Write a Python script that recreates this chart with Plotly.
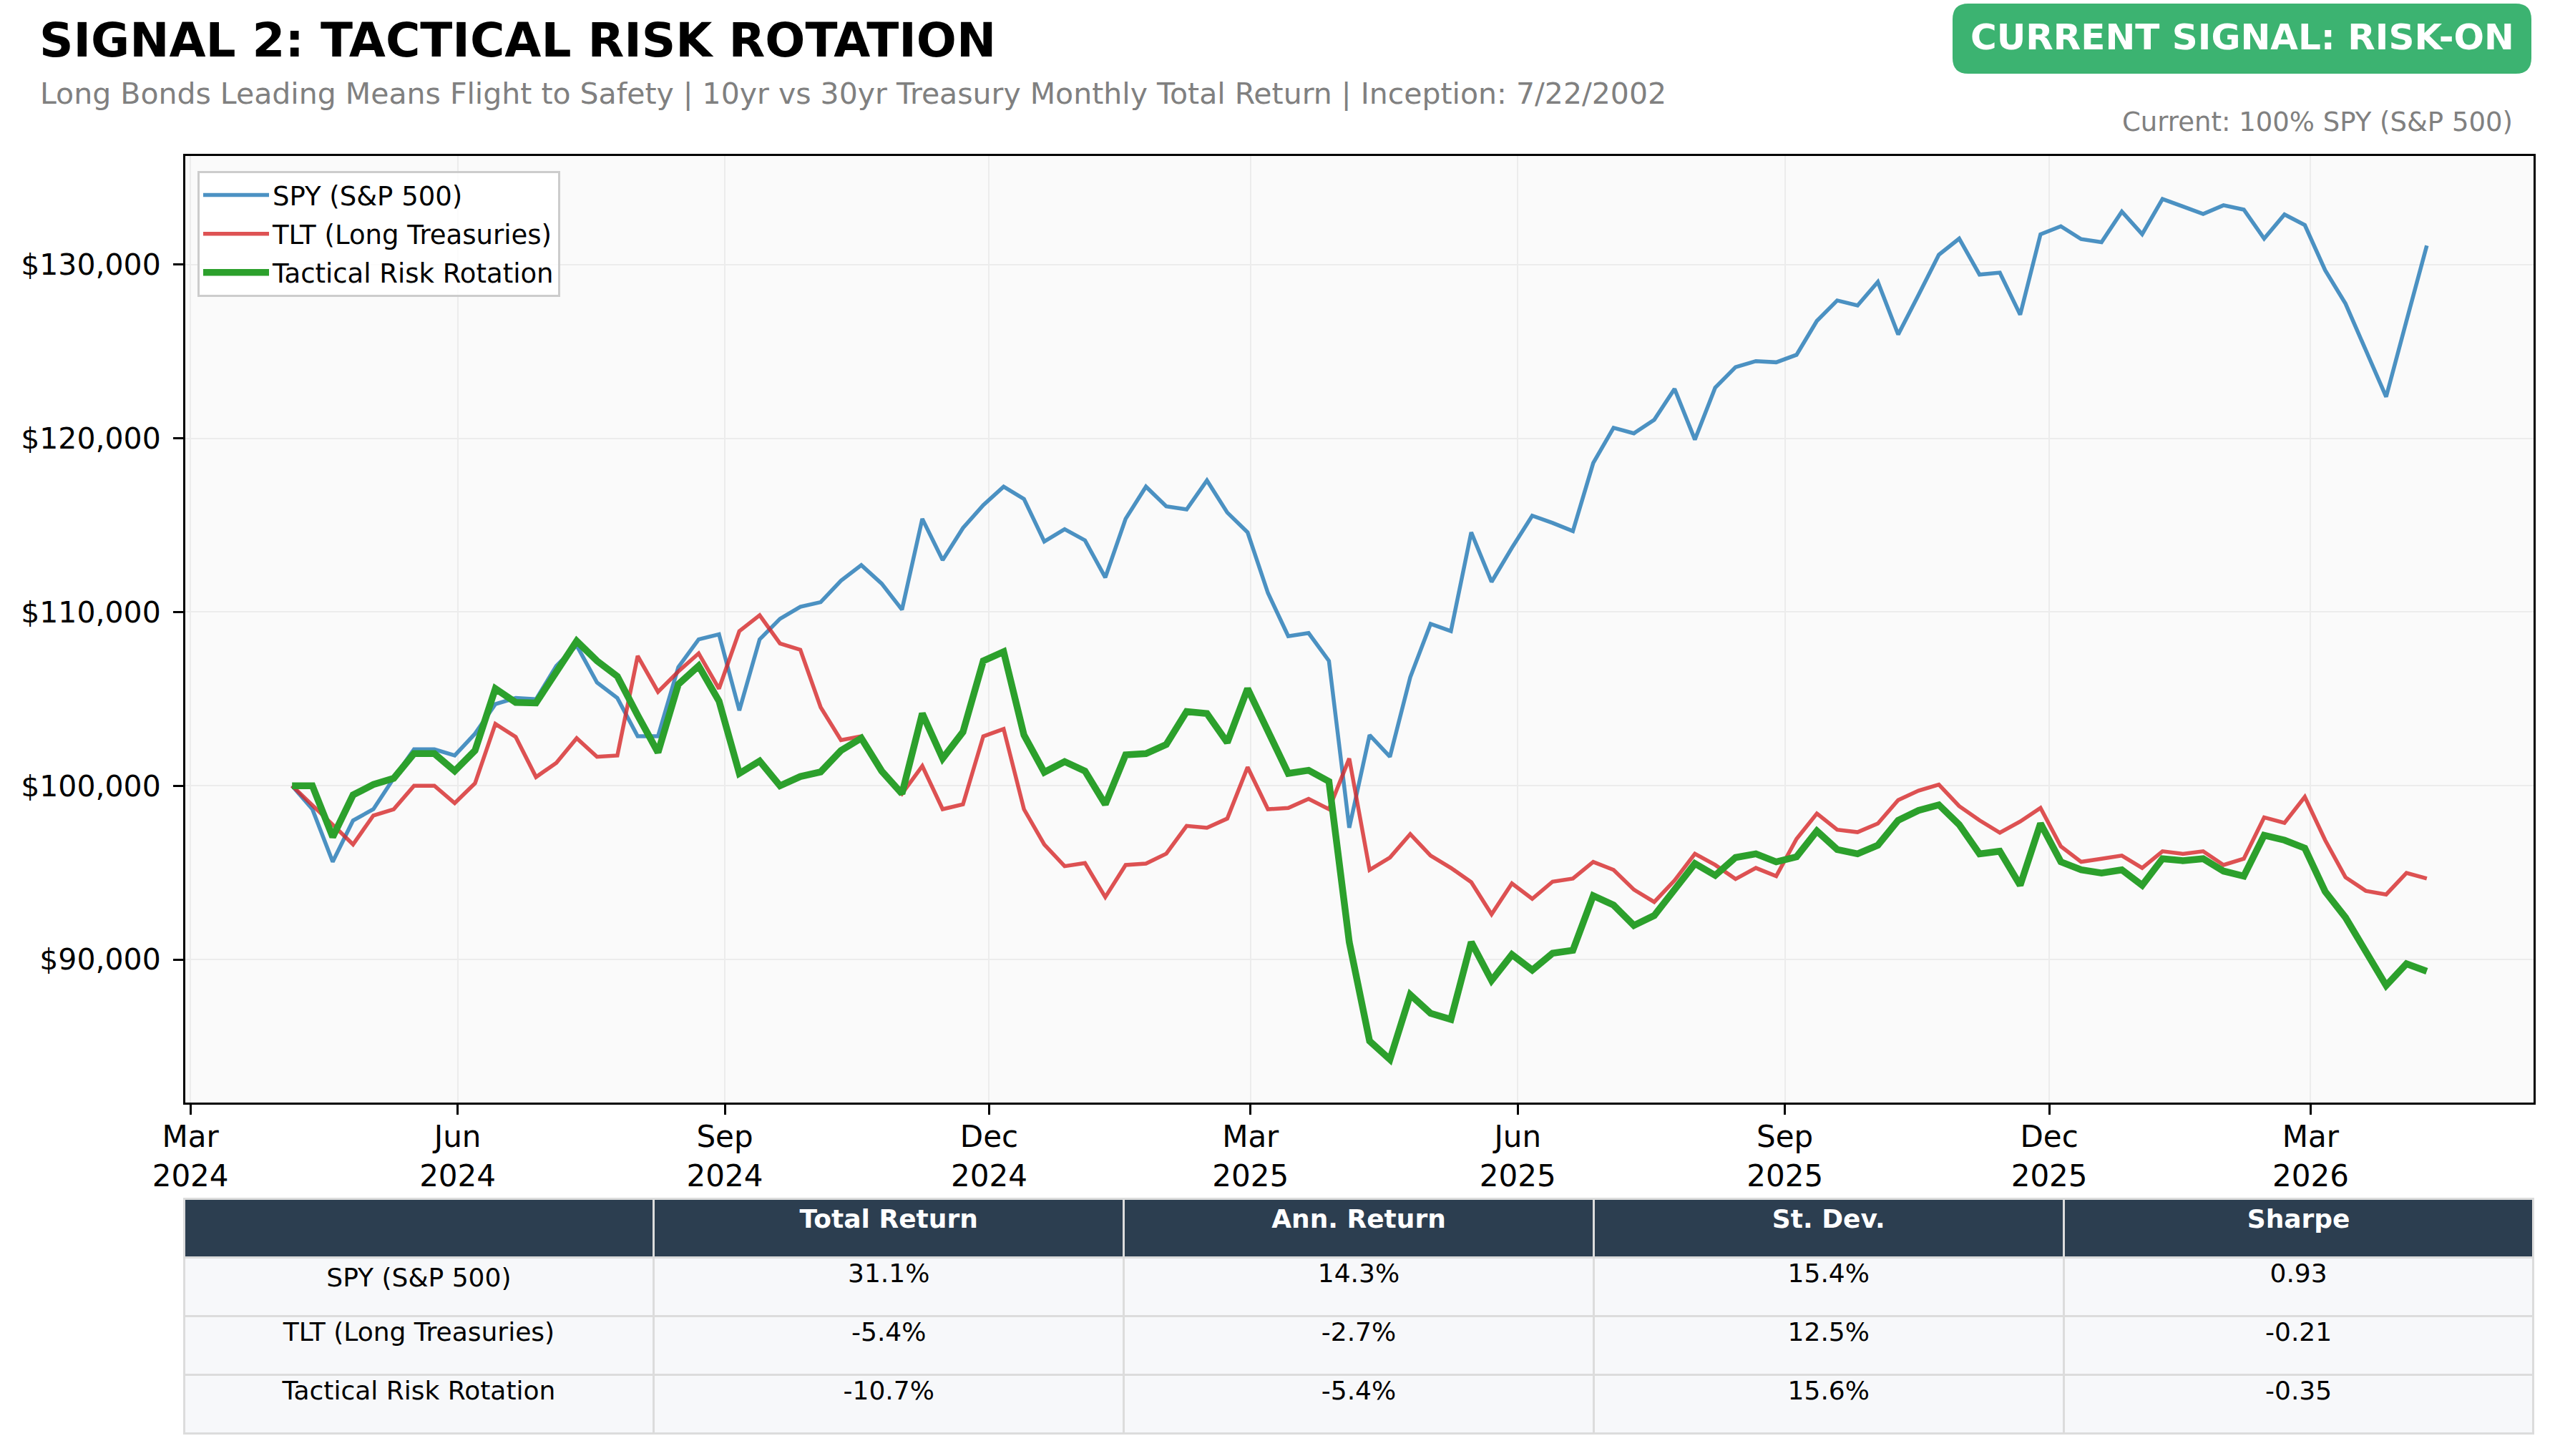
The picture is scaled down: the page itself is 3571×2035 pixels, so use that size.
import pandas as pd
import plotly.graph_objects as go

# weekly portfolio values, $100k start
dates = pd.date_range("2024-04-05", periods=106, freq="7D")

spy = [100000, 98650, 95620, 98000, 98650, 100430, 102100, 102100, 101750, 103000,
       104700, 105050, 104980, 106900, 108080, 105940, 105050, 102850, 102850, 106830,
       108430, 108720, 104340, 108430, 109610, 110300, 110570, 111810, 112700, 111640,
       110140, 115370, 112990, 114840, 116160, 117220, 116510, 114060, 114770, 114130,
       111990, 115370, 117220, 116090, 115910, 117580, 115730, 114590, 111100, 108610,
       108790, 107190, 97580, 102920, 101670, 106250, 109320, 108900, 114590, 111740,
       113700, 115550, 115130, 114660, 118580, 120610, 120290, 121070, 122850, 119930,
       122920, 124100, 124450, 124380, 124810, 126760, 127940, 127650, 129010, 125980,
       128260, 130570, 131500, 129430, 129540, 127120, 131750, 132210, 131470, 131290,
       133060, 131750, 133780, 133350, 132920, 133420, 133170, 131500, 132890, 132280,
       129680, 127760, 125060, 122390, 126760, 131100]

tlt = [100000, 98900, 97760, 96620, 98290, 98650, 100000, 100000, 99000, 100140,
       103560, 102810, 100500, 101320, 102740, 101670, 101740, 107470, 105410, 106580,
       107620, 105590, 108900, 109820, 108190, 107830, 104520, 102630, 102850, 100890,
       99540, 101140, 98650, 98930, 102850, 103270, 98650, 96620, 95370, 95550,
       93590, 95440, 95520, 96090, 97690, 97580, 98110, 101070, 98650, 98720,
       99250, 98650, 101570, 95160, 95870, 97220, 95980, 95270, 94450, 92600,
       94380, 93490, 94480, 94660, 95620, 95160, 94020, 93310, 94550, 96080,
       95440, 94630, 95270, 94800, 96940, 98400, 97470, 97330, 97830, 99180,
       99720, 100070, 98830, 98010, 97300, 97940, 98720, 96510, 95620, 95800,
       95980, 95270, 96230, 96080, 96230, 95440, 95800, 98180, 97860, 99360,
       96870, 94730, 93950, 93740, 94980, 94660]

tactical = [100000, 100000, 97050, 99470, 100070, 100430, 101850, 101850, 100850, 102030,
            105590, 104800, 104770, 106580, 108330, 107190, 106300, 104060, 101920, 105840,
            106900, 104880, 100710, 101420, 100000, 100530, 100800, 102030, 102740, 100850,
            99540, 104160, 101570, 103100, 107190, 107720, 102920, 100780, 101390, 100850,
            98930, 101780, 101850, 102380, 104270, 104160, 102490, 105590, 103100, 100710,
            100890, 100250, 91000, 85300, 84240, 87970, 86900, 86550, 91000, 88790,
            90280, 89390, 90360, 90530, 93670, 93130, 91960, 92530, 94020, 95520,
            94840, 95870, 96080, 95620, 95910, 97400, 96330, 96080, 96580, 98010,
            98580, 98900, 97760, 96080, 96230, 94270, 97830, 95620, 95160, 94980,
            95160, 94270, 95800, 95690, 95800, 95090, 94800, 97150, 96870, 96410,
            93910, 92420, 90460, 88500, 89750, 89320]

y_ticks = [90000, 100000, 110000, 120000, 130000]
y_tick_labels = ["$90,000", "$100,000", "$110,000", "$120,000", "$130,000"]

# stats table
stat_rows = ["SPY (S&P 500)", "TLT (Long Treasuries)", "Tactical Risk Rotation"]
total_ret = ["31.1%", "-5.4%", "-10.7%"]
ann_ret = ["14.3%", "-2.7%", "-5.4%"]
st_dev = ["15.4%", "12.5%", "15.6%"]
sharpe = ["0.93", "-0.21", "-0.35"]
stat_cols = ["", "Total Return", "Ann. Return", "St. Dev.", "Sharpe"]

W, H = 3571, 2035
FONT = "DejaVu Sans"

def px(x):
    return x / W

def py(y):
    return 1 - y / H

fig = go.Figure()
series = [("SPY (S&P 500)", spy, "rgba(31,119,180,0.8)", 5.5),
          ("TLT (Long Treasuries)", tlt, "rgba(214,39,40,0.8)", 5.5),
          ("Tactical Risk Rotation", tactical, "#2ca02c", 9.5)]
for name, vals, color, lw in series:
    fig.add_trace(go.Scatter(x=dates, y=vals, mode="lines", name=name, legendgroup=name,
                             line=dict(color=color, width=lw)))

fig.add_trace(go.Table(
    domain=dict(x=[px(257), px(3542)], y=[0, py(1675)]),
    columnwidth=[1, 1, 1, 1, 1],
    header=dict(values=["<b>%s</b>" % c if c else "" for c in stat_cols],
                fill_color="#2c3e50", align="center", height=82,
                font=dict(family=FONT, size=36, color="white"),
                line=dict(color="#dcdcdc", width=3)),
    cells=dict(values=[stat_rows, total_ret, ann_ret, st_dev, sharpe],
               fill_color="#f7f8fa", align="center", height=82,
               font=dict(family=FONT, size=36, color="black"),
               line=dict(color="#dcdcdc", width=3)),
))

# matplotlib-like 5% padding
allv = spy + tlt + tactical
lo, hi = min(allv), max(allv)
ypad = 0.05 * (hi - lo)
span = dates[-1] - dates[0]
xr = [dates[0] - span * 0.05, dates[-1] + span * 0.05]

fig.update_xaxes(domain=[px(259), px(3541)], range=[str(xr[0]), str(xr[1])],
                 automargin=False,
                 tick0="2024-03-01", dtick="M3", tickformat="%b<br>%Y",
                 showline=True, mirror=True, linecolor="black", linewidth=3,
                 ticks="outside", ticklen=14, tickwidth=2.5, tickcolor="black",
                 showgrid=True, gridcolor="#ececec", gridwidth=2, zeroline=False,
                 tickfont=dict(family=FONT, size=42, color="black"))
try:
    fig.update_xaxes(ticklabelstandoff=-5)
except ValueError:
    pass
fig.update_yaxes(domain=[py(1541), py(218)], range=[lo - ypad, hi + ypad],
                 automargin=False, ticklabelstandoff=9,
                 tickvals=y_ticks, ticktext=y_tick_labels,
                 showline=True, mirror=True, linecolor="black", linewidth=3,
                 ticks="outside", ticklen=14, tickwidth=2.5, tickcolor="black",
                 showgrid=True, gridcolor="#ececec", gridwidth=2, zeroline=False,
                 tickfont=dict(family=FONT, size=41, color="black"))

# signal badge (rounded box)
x0, x1, y0, y1, r = 2729, 3538, 5, 103, 22
badge = ("M {a},{b} L {c},{b} Q {d},{b} {d},{e} L {d},{f} Q {d},{g} {c},{g} "
         "L {a},{g} Q {h},{g} {h},{f} L {h},{e} Q {h},{b} {a},{b} Z").format(
    a=px(x0 + r), b=py(y0), c=px(x1 - r), d=px(x1), e=py(y0 + r),
    f=py(y1 - r), g=py(y1), h=px(x0))
fig.add_shape(type="path", path=badge, xref="paper", yref="paper",
              fillcolor="#3cb371", line=dict(width=0), layer="above")

fig.add_annotation(x=px(53), y=py(57), xref="paper", yref="paper", showarrow=False,
                   xanchor="left", yanchor="middle",
                   text="<b>SIGNAL 2: TACTICAL RISK ROTATION</b>",
                   font=dict(family=FONT, size=66, color="black"))
fig.add_annotation(x=px(54), y=py(131), xref="paper", yref="paper", showarrow=False,
                   xanchor="left", yanchor="middle",
                   text="Long Bonds Leading Means Flight to Safety | 10yr vs 30yr Treasury "
                        "Monthly Total Return | Inception: 7/22/2002",
                   font=dict(family=FONT, size=41, color="#808080"))
fig.add_annotation(x=px((x0 + x1) / 2), y=py(52), xref="paper", yref="paper",
                   showarrow=False, xanchor="center", yanchor="middle",
                   text="<b>CURRENT SIGNAL: RISK-ON</b>",
                   font=dict(family=FONT, size=50, color="white"))
fig.add_annotation(x=px(3514), y=py(170), xref="paper", yref="paper", showarrow=False,
                   xanchor="right", yanchor="middle",
                   text="Current: 100% SPY (S&P 500)",
                   font=dict(family=FONT, size=37, color="#808080"))

fig.update_layout(
    width=W, height=H, autosize=False,
    margin=dict(l=0, r=0, t=0, b=0, autoexpand=False),
    paper_bgcolor="white", plot_bgcolor="#fafafa",
    font=dict(family=FONT, color="black"),
    showlegend=True,
    legend=dict(x=px(276), y=py(239), xanchor="left", yanchor="top",
                bgcolor="rgba(255,255,255,0.85)", bordercolor="#cccccc", borderwidth=3,
                font=dict(family=FONT, size=37, color="black"),
                itemwidth=92, traceorder="grouped", tracegroupgap=3),
)

# drop the default 8px body margin so the figure sits at the page corner
fig.write_html("out.html", config={"displayModeBar": False},
               post_script="document.body.style.margin='0';")
